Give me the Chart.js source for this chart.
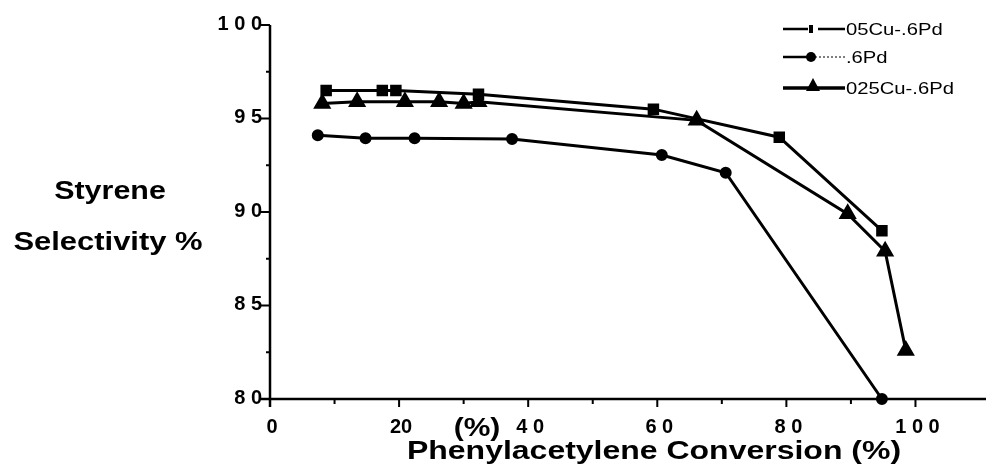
<!DOCTYPE html>
<html>
<head>
<meta charset="utf-8">
<script src="https://cdn.jsdelivr.net/npm/chart.js@4.4.0/dist/chart.umd.min.js"></script>
<style>
  body { margin: 0; background: #fff; }
  #wrap { width: 986px; height: 469px; position: relative; }
</style>
</head>
<body>
<div id="wrap"><canvas id="selChart"></canvas></div>
<script>
// series
const seriesLabels = ['05Cu-.6Pd', '.6Pd', '025Cu-.6Pd'];

const cu05X = [8.7, 17.4, 19.5, 32.3, 59.4, 78.9, 94.8];
const cu05Y = [96.5, 96.5, 96.5, 96.3, 95.5, 94.0, 89.0];

const pdX = [7.4, 14.8, 22.4, 37.5, 60.7, 70.6, 94.8];
const pdY = [94.1, 93.95, 93.95, 93.9, 93.05, 92.1, 80.0];

const cu025X = [8.1, 13.5, 20.9, 26.2, 30.0, 32.3, 66.1, 89.5, 95.3, 98.5];
const cu025Y = [95.8, 95.9, 95.9, 95.9, 95.8, 95.9, 94.9, 89.9, 87.9, 82.6];

// axis ticks
const xTickValues = [0, 20, 40, 60, 80, 100];
const xTickLabels = ['0', '20', '4 0', '6 0', '8 0', '1 0 0'];
const xMinorTicks = [10, 30, 50, 70, 90];
const yTickValues = [80, 85, 90, 95, 100];
const yTickLabels = ['8 0', '8 5', '9 0', '9 5', '1 0 0'];
const yMinorTicks = [82.5, 87.5, 92.5, 97.5];

const xTitle = 'Phenylacetylene Conversion (%)';
const yTitle = ['Styrene', 'Selectivity %'];

function toPoints(xs, ys) {
    return xs.map((x, i) => ({ x: x, y: ys[i] }));
}

const FONT = '"Liberation Sans", Arial, Helvetica, sans-serif';

function stretchText(ctx, text, x, y, font, align, sx) {
    ctx.save();
    ctx.font = font;
    ctx.textAlign = align;
    ctx.textBaseline = 'alphabetic';
    ctx.translate(x, y);
    ctx.scale(sx, 1);
    ctx.fillText(text, 0, 0);
    ctx.restore();
}

// axes, ticks, titles and legend drawn by hand to match the scanned figure
const axesPlugin = {
    id: 'axesPlugin',
    afterDatasetsDraw(chart) {
        const ctx = chart.ctx;
        const xs = chart.scales.x, ys = chart.scales.y;
        const area = chart.chartArea;
        ctx.save();
        ctx.strokeStyle = '#000';
        ctx.fillStyle = '#000';
        ctx.lineWidth = 2.5;
        ctx.lineCap = 'butt';

        // axis lines
        ctx.beginPath();
        ctx.moveTo(area.left, area.top);
        ctx.lineTo(area.left, area.bottom + 8);
        ctx.moveTo(area.left - 9, area.bottom);
        ctx.lineTo(chart.width, area.bottom);
        ctx.stroke();

        // y ticks
        ctx.lineWidth = 2;
        ctx.beginPath();
        yTickValues.forEach(v => {
            const py = ys.getPixelForValue(v);
            ctx.moveTo(area.left - 9, py);
            ctx.lineTo(area.left, py);
        });
        yMinorTicks.forEach(v => {
            const py = ys.getPixelForValue(v);
            ctx.moveTo(area.left - 4, py);
            ctx.lineTo(area.left, py);
        });
        // x ticks
        xTickValues.forEach(v => {
            const px = xs.getPixelForValue(v);
            ctx.moveTo(px, area.bottom);
            ctx.lineTo(px, area.bottom + 8);
        });
        xMinorTicks.forEach(v => {
            const px = xs.getPixelForValue(v);
            ctx.moveTo(px, area.bottom);
            ctx.lineTo(px, area.bottom + 5);
        });
        ctx.stroke();

        // tick labels
        ctx.font = 'bold 20px ' + FONT;
        ctx.textAlign = 'right';
        ctx.textBaseline = 'middle';
        yTickValues.forEach((v, i) => {
            ctx.fillText(yTickLabels[i], area.left - 8, ys.getPixelForValue(v) - 1);
        });
        ctx.textAlign = 'center';
        ctx.textBaseline = 'alphabetic';
        xTickValues.forEach((v, i) => {
            ctx.fillText(xTickLabels[i], xs.getPixelForValue(v) + 2, area.bottom + 34);
        });

        // titles
        const tf = 'bold 26px ' + FONT;
        stretchText(ctx, yTitle[0], 110, 199, tf, 'center', 1.17);
        stretchText(ctx, yTitle[1], 108, 250, tf, 'center', 1.19);
        stretchText(ctx, xTitle, 654, 459, tf, 'center', 1.23);
        stretchText(ctx, '(%)', 477, 436, 'bold 25px ' + FONT, 'center', 1.2);

        // legend
        const rows = [29, 57, 88];
        const lx0 = 783, lx1 = 845, mx = 811;
        ctx.lineWidth = 2.5;
        // row 1: line, small bar marker, gap, line
        ctx.beginPath();
        ctx.moveTo(lx0, rows[0]); ctx.lineTo(mx - 3, rows[0]);
        ctx.moveTo(mx + 7, rows[0]); ctx.lineTo(lx1, rows[0]);
        ctx.stroke();
        ctx.fillRect(mx - 2, rows[0] - 4, 4, 8);
        // row 2: line, circle, dotted tail
        ctx.beginPath();
        ctx.moveTo(lx0, rows[1]); ctx.lineTo(mx, rows[1]);
        ctx.stroke();
        ctx.save();
        ctx.lineWidth = 1.2;
        ctx.setLineDash([2, 2]);
        ctx.beginPath();
        ctx.moveTo(mx, rows[1]); ctx.lineTo(lx1, rows[1]);
        ctx.stroke();
        ctx.restore();
        ctx.beginPath();
        ctx.arc(mx, rows[1], 5, 0, Math.PI * 2);
        ctx.fill();
        // row 3: thick line with triangle
        ctx.lineWidth = 3.5;
        ctx.beginPath();
        ctx.moveTo(lx0, rows[2]); ctx.lineTo(lx1, rows[2]);
        ctx.stroke();
        ctx.beginPath();
        ctx.moveTo(mx + 2, rows[2] - 10);
        ctx.lineTo(mx + 9, rows[2] + 3);
        ctx.lineTo(mx - 5, rows[2] + 3);
        ctx.closePath();
        ctx.fill();

        rows.forEach((ry, i) => {
            stretchText(ctx, seriesLabels[i], 846, ry + 6, '17px ' + FONT, 'left', 1.19);
        });
        ctx.restore();
    }
};

new Chart(document.getElementById('selChart'), {
    type: 'scatter',
    data: {
        datasets: [{
            label: seriesLabels[0],
            data: toPoints(cu05X, cu05Y),
            showLine: true,
            borderColor: '#000',
            backgroundColor: '#000',
            borderWidth: 3,
            pointStyle: 'rect',
            pointRadius: 6,
            clip: false
        }, {
            label: seriesLabels[1],
            data: toPoints(pdX, pdY),
            showLine: true,
            borderColor: '#000',
            backgroundColor: '#000',
            borderWidth: 3,
            pointStyle: 'circle',
            pointRadius: 4.5,
            clip: false
        }, {
            label: seriesLabels[2],
            data: toPoints(cu025X, cu025Y),
            showLine: true,
            borderColor: '#000',
            backgroundColor: '#000',
            borderWidth: 3,
            pointStyle: 'triangle',
            pointRadius: 7.5,
            clip: false
        }]
    },
    options: {
        responsive: true,
        maintainAspectRatio: false,
        animation: false,
        layout: { padding: { left: 270, top: 25, right: 0, bottom: 70 } },
        plugins: {
            legend: { display: false },
            tooltip: { enabled: false }
        },
        scales: {
            x: { type: 'linear', min: 0, max: 109.3, display: false },
            y: { type: 'linear', min: 80, max: 100, display: false }
        }
    },
    plugins: [axesPlugin]
});
</script>
</body>
</html>
